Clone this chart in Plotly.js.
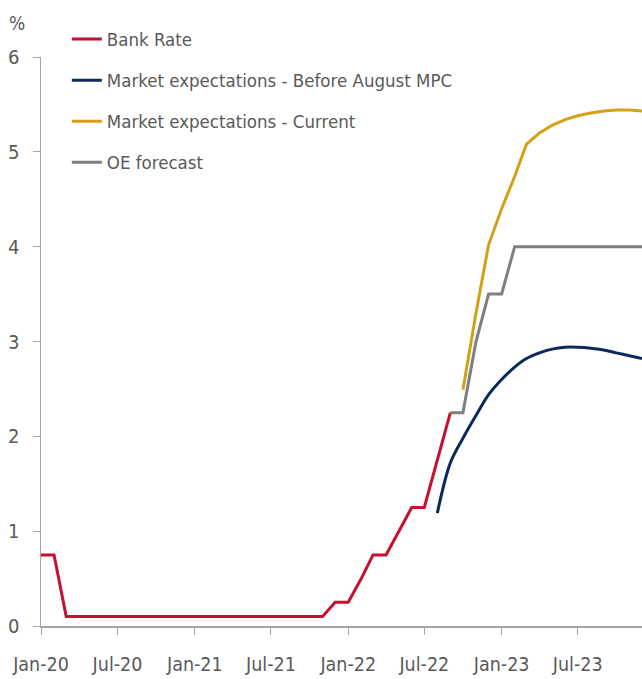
<!DOCTYPE html>
<html><head><meta charset="utf-8">
<script src="https://cdn.plot.ly/plotly-3.0.1.min.js"></script>
<style>html,body{margin:0;padding:0;background:#fff}#chart{width:642px;height:679px}</style>
</head><body><div id="chart"></div>
<script>
const months = [
 '2020-01-01','2020-02-01','2020-03-01','2020-04-01','2020-05-01','2020-06-01','2020-07-01','2020-08-01','2020-09-01','2020-10-01','2020-11-01','2020-12-01',
 '2021-01-01','2021-02-01','2021-03-01','2021-04-01','2021-05-01','2021-06-01','2021-07-01','2021-08-01','2021-09-01','2021-10-01','2021-11-01','2021-12-01',
 '2022-01-01','2022-02-01','2022-03-01','2022-04-01','2022-05-01','2022-06-01','2022-07-01','2022-08-01','2022-09-01','2022-10-01','2022-11-01','2022-12-01',
 '2023-01-01','2023-02-01','2023-03-01','2023-04-01','2023-05-01','2023-06-01','2023-07-01','2023-08-01','2023-09-01','2023-10-01','2023-11-01','2023-12-01'];
const bankRate = [0.75,0.75,0.1,0.1,0.1,0.1,0.1,0.1,0.1,0.1,0.1,0.1,
 0.1,0.1,0.1,0.1,0.1,0.1,0.1,0.1,0.1,0.1,0.1,0.25,
 0.25,0.5,0.75,0.75,1.0,1.25,1.25,1.75,2.25,null,null,null,
 null,null,null,null,null,null,null,null,null,null,null,null];
const beforeAugust = [null,null,null,null,null,null,null,null,null,null,null,null,
 null,null,null,null,null,null,null,null,null,null,null,null,
 null,null,null,null,null,null,null,1.19,1.72,1.98,2.22,2.44,
 2.6,2.73,2.82,2.88,2.92,2.94,2.94,2.93,2.91,2.88,2.85,2.82];
const current = [null,null,null,null,null,null,null,null,null,null,null,null,
 null,null,null,null,null,null,null,null,null,null,null,null,
 null,null,null,null,null,null,null,null,null,2.49,3.3,4.02,
 4.4,4.74,5.08,5.2,5.28,5.34,5.38,5.41,5.43,5.44,5.44,5.43];
const oeForecast = [null,null,null,null,null,null,null,null,null,null,null,null,
 null,null,null,null,null,null,null,null,null,null,null,null,
 null,null,null,null,null,null,null,null,2.25,2.25,3.0,3.5,
 3.5,4.0,4.0,4.0,4.0,4.0,4.0,4.0,4.0,4.0,4.0,4.0];
const seriesNames = ['Bank Rate','Market expectations - Before August MPC','Market expectations - Current','OE forecast'];
const tickDates = ['2020-01-01','2020-07-01','2021-01-01','2021-07-01','2022-01-01','2022-07-01','2023-01-01','2023-07-01'];
const tickLabels = ['Jan-20','Jul-20','Jan-21','Jul-21','Jan-22','Jul-22','Jan-23','Jul-23'];

const FONT = '"DejaVu Sans Condensed", "Open Sans", sans-serif';
const colors = ['#C8102E','#0B2A5B','#D4A017','#7F7F7F'];
const ys = [bankRate, beforeAugust, current, oeForecast];
const traces = ys.map((y,i)=>({
  x: months, y: y, type:'scatter', mode:'lines', name: seriesNames[i],
  legendgroup: 'g'+i,
  line:{color:colors[i], width:3, shape: i===1 ? 'spline' : 'linear'},
  hoverinfo:'x+y'
}));
const layout = {
  width:642, height:679,
  margin:{l:41, r:0, t:57, b:53},
  paper_bgcolor:'#fff', plot_bgcolor:'#fff',
  font:{family:FONT, color:'#595959', size:19},
  showlegend:true,
  legend:{x:0.043, y:1.064, xanchor:'left', yanchor:'top', bgcolor:'rgba(0,0,0,0)',
    font:{family:FONT, size:18.5, color:'#595959'}, traceorder:'grouped', tracegroupgap:14},
  xaxis:{type:'date', range:['2020-01-01','2023-12-01'], tickvals:tickDates, ticktext:tickLabels,
    showgrid:false, zeroline:false, showline:true, linecolor:'#A6A6A6', linewidth:1.5,
    ticks:'outside', ticklen:7, tickcolor:'#A6A6A6', ticklabelstandoff:13,
    tickfont:{family:FONT, size:19.5, color:'#595959'}},
  yaxis:{range:[0,6], tickvals:[0,1,2,3,4,5,6], showgrid:false, zeroline:false, showline:true,
    linecolor:'#A6A6A6', linewidth:1.5, ticks:'outside', ticklen:7, tickcolor:'#A6A6A6',
    ticklabelstandoff:9, tickfont:{family:FONT, size:20, color:'#595959'}},
  annotations:[{text:'%', xref:'paper', yref:'paper', x:-0.04, y:1.06, xanchor:'center', yanchor:'middle',
    showarrow:false, font:{family:FONT, size:19, color:'#595959'}}]
};
Plotly.newPlot('chart', traces, layout, {displayModeBar:false, staticPlot:true});
</script></body></html>
